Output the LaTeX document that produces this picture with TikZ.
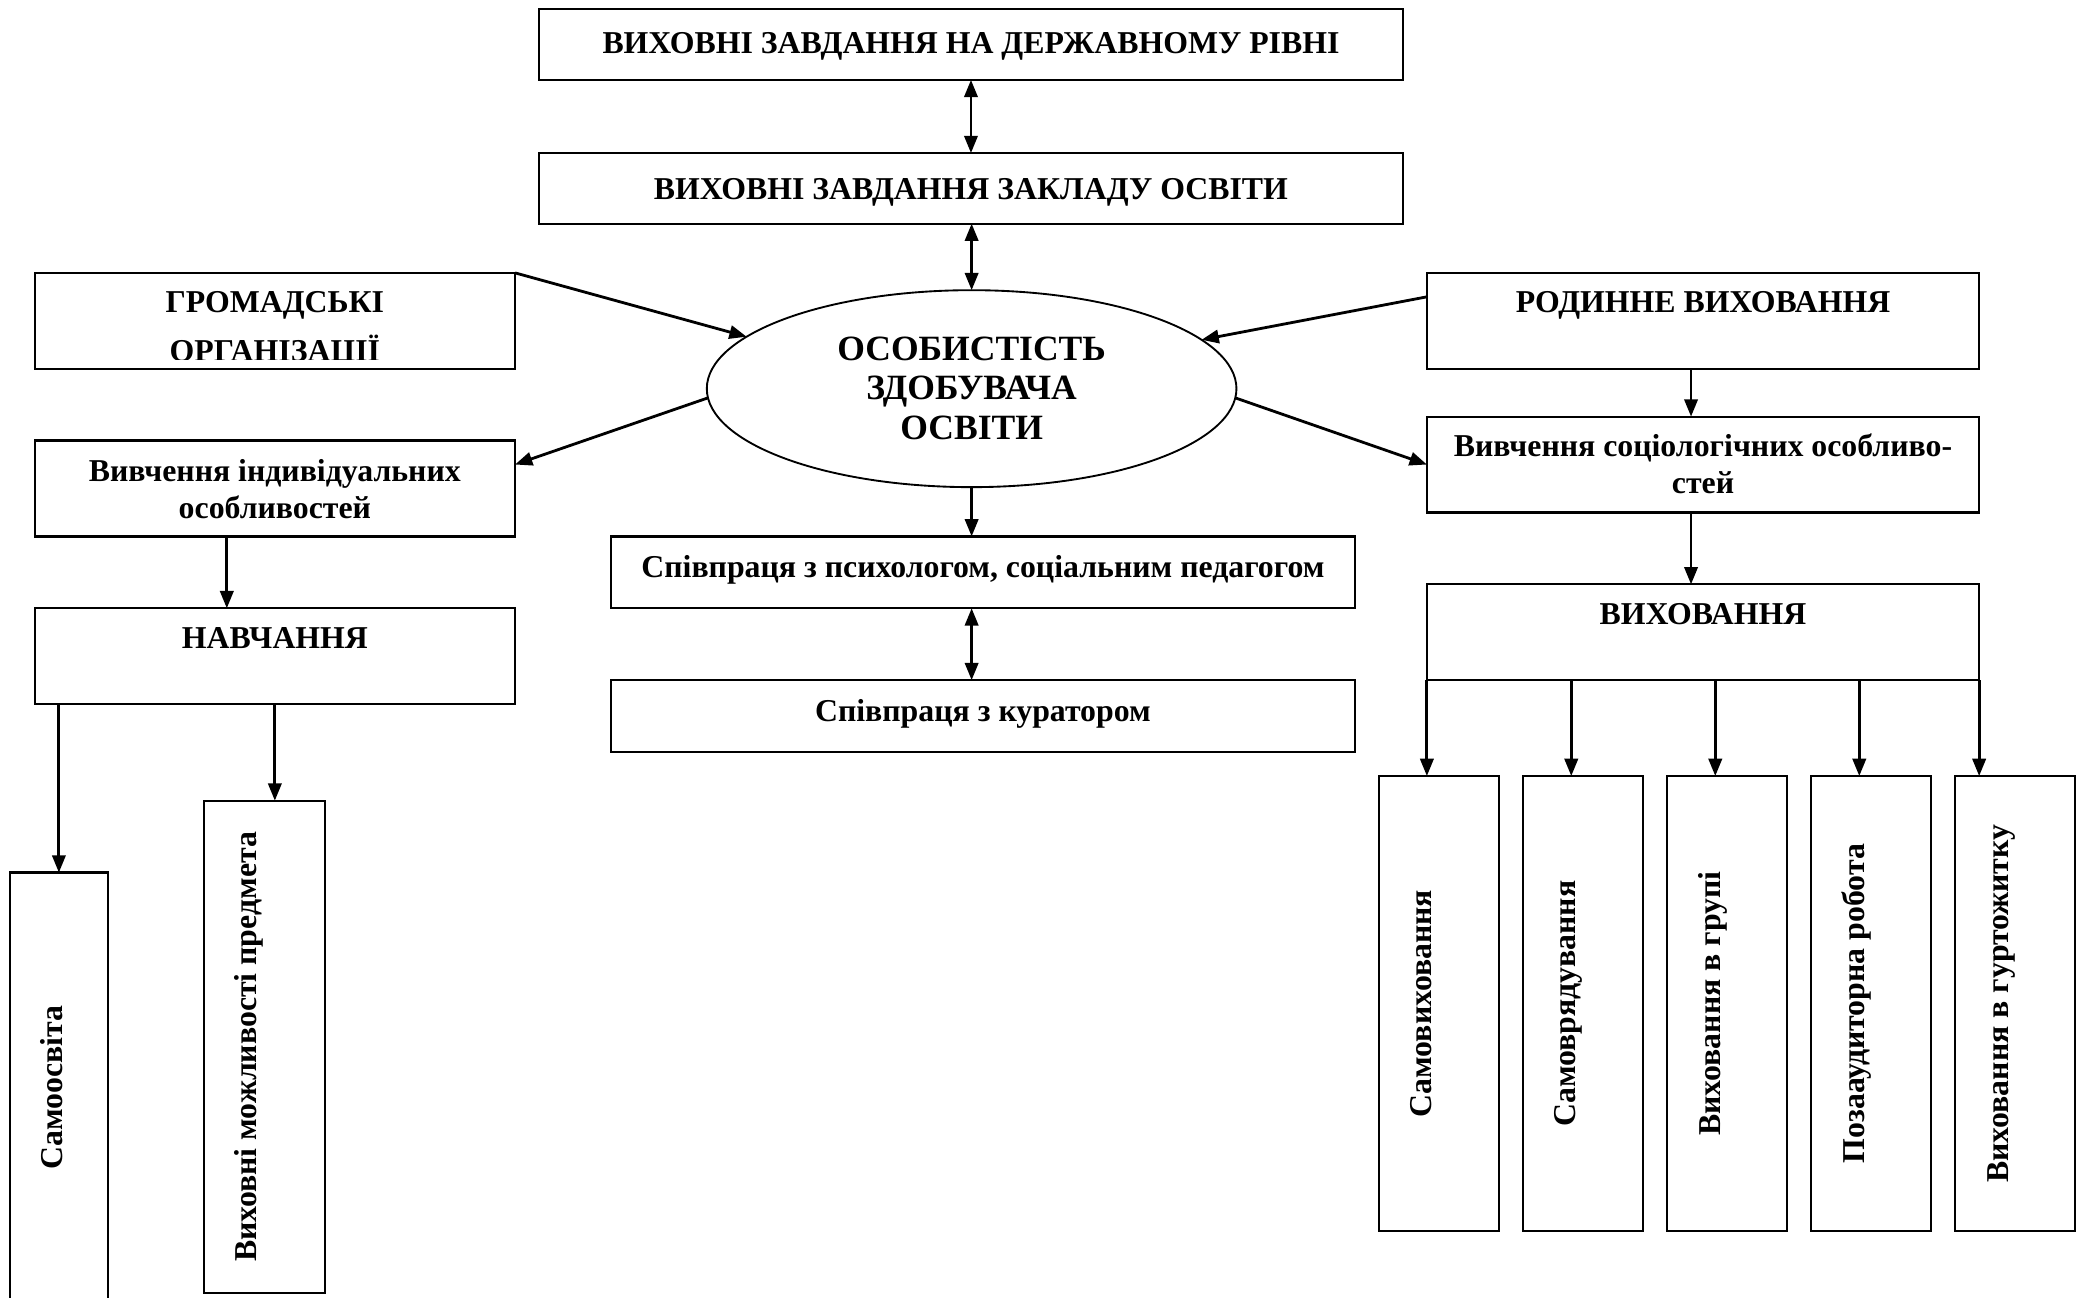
\documentclass[tikz,border=0pt]{standalone}
\usepackage{fontspec}
\setmainfont{Liberation Serif}
\usetikzlibrary{arrows.meta,shapes.geometric,calc}
\begin{document}
\begin{tikzpicture}[x=0.02cm,y=-0.02cm,
  bx/.style={draw, line width=0.95pt, inner sep=0pt, outer sep=0pt},
  lbl/.style={font=\bfseries\fontsize{13.6}{16}\selectfont, inner sep=0pt, anchor=base},
  biglbl/.style={font=\bfseries\fontsize{15.2}{17}\selectfont, inner sep=0pt, anchor=base},
  arrw/.style={line width=1.2pt, -{Triangle[length=0.26cm,width=0.2cm]}},
  darrw/.style={line width=1.2pt, {Triangle[length=0.26cm,width=0.2cm]}-{Triangle[length=0.26cm,width=0.2cm]}}]
\useasboundingbox (0,0) rectangle (1568,975);
\fill[white] (0,0) rectangle (1568,975);
\clip (0,0) rectangle (1568,975);

% boxes
\node[bx, minimum width=12.98cm, minimum height=1.06cm] (top) at (729.5,33.5) {};
\node[bx, minimum width=12.98cm, minimum height=1.06cm] (zakl) at (729.5,141.5) {};
\node[bx, minimum width=7.22cm, minimum height=1.44cm] (gromad) at (206.5,241) {};
\node[bx, minimum width=8.3cm, minimum height=1.44cm] (rodyn) at (1279.5,241) {};
\node[bx, minimum width=7.22cm, minimum height=1.44cm] (indiv) at (206.5,367) {};
\node[bx, minimum width=7.22cm, minimum height=1.44cm] (navch) at (206.5,493) {};
\node[bx, minimum width=8.3cm, minimum height=1.44cm] (soc) at (1279.5,349) {};
\node[bx, minimum width=8.3cm, minimum height=1.44cm] (vykh) at (1279.5,475) {};
\node[bx, minimum width=11.18cm, minimum height=1.08cm] (psych) at (738.5,430) {};
\node[bx, minimum width=11.18cm, minimum height=1.08cm] (kur) at (738.5,538) {};
\node[bx, minimum width=1.47cm, minimum height=6.45cm] (samoosv) at (44.25,816.8) {};
\node[bx, minimum width=1.82cm, minimum height=7.40cm] (mozh) at (198.5,786.5) {};
\node[bx, minimum width=1.8cm, minimum height=6.84cm] (b1) at (1081.2,754) {};
\node[bx, minimum width=1.8cm, minimum height=6.84cm] (b2) at (1189.4,754) {};
\node[bx, minimum width=1.8cm, minimum height=6.84cm] (b3) at (1297.6,754) {};
\node[bx, minimum width=1.8cm, minimum height=6.84cm] (b4) at (1405.8,754) {};
\node[bx, minimum width=1.8cm, minimum height=6.84cm] (b5) at (1514,754) {};
\node[draw, ellipse, line width=0.8pt, minimum width=7.96cm, minimum height=2.96cm, inner sep=0pt, outer sep=0pt] (el) at (730,292) {};

% texts
\node[lbl] (ttop) at (729.5,40) {ВИХОВНІ ЗАВДАННЯ НА ДЕРЖАВНОМУ РІВНІ};
\node[lbl] (tzakl) at (729.5,150) {ВИХОВНІ ЗАВДАННЯ ЗАКЛАДУ ОСВІТИ};
\node[lbl] (tgromad1) at (206.5,235) {ГРОМАДСЬКІ};
\begin{scope}
\clip (26,205) rectangle (387,270);
\node[lbl] (tgromad2) at (206.5,271.5) {ОРГАНІЗАЦІЇ};
\end{scope}
\node[lbl] (trodyn) at (1279.5,235) {РОДИННЕ ВИХОВАННЯ};
\node[lbl] (tindiv1) at (206.5,362) {Вивчення індивідуальних};
\node[lbl] (tindiv2) at (206.5,389.5) {особливостей};
\node[lbl] (tnavch) at (206.5,487) {НАВЧАННЯ};
\node[lbl] (tsoc1) at (1279.5,343) {Вивчення соціологічних особливо-};
\node[lbl] (tsoc2) at (1279.5,370.5) {стей};
\node[lbl] (tvykh) at (1279.5,469) {ВИХОВАННЯ};
\node[lbl] (tpsych) at (738.5,434) {Співпраця з психологом, соціальним педагогом};
\node[lbl] (tkur) at (738.5,542) {Співпраця з куратором};
\node[biglbl] (tel1) at (730,270.5) {ОСОБИСТІСТЬ};
\node[biglbl] (tel2) at (730,300.5) {ЗДОБУВАЧА};
\node[biglbl] (tel3) at (730,330.5) {ОСВІТИ};
\node[lbl, rotate=90] (tsamoosv) at (47.2,817) {Самоосвіта};
\node[lbl, rotate=90] (tmozh) at (192.7,786.5) {Виховні можливості предмета};
\node[lbl, rotate=90] (tb1) at (1075.8,754) {Самовиховання};
\node[lbl, rotate=90] (tb2) at (1184,754) {Самоврядування};
\node[lbl, rotate=90] (tb3) at (1292.3,754) {Виховання в групі};
\node[lbl, rotate=90] (tb4) at (1400.5,754) {Позааудиторна робота};
\node[lbl, rotate=90] (tb5) at (1508.7,754) {Виховання в гуртожитку};

% helper coordinates
\coordinate (rodynL) at ($(rodyn.north west)!0.25!(rodyn.south west)$);
\coordinate (indivR) at ($(indiv.north east)!0.25!(indiv.south east)$);
\coordinate (indivB) at ($(indiv.south west)!0.4!(indiv.south east)$);
\coordinate (rodynB) at ($(rodyn.south)+(-9,0)$);
\coordinate (socB) at ($(soc.south)+(-9,0)$);
\coordinate (a2) at ($(b2.north west)+(36.1,0)$);
\coordinate (a3) at ($(b3.north west)+(36.1,0)$);
\coordinate (a4) at ($(b4.north west)+(36.1,0)$);

% connectors
\draw[darrw] (top.south) -- (zakl.north);
\draw[darrw] (zakl.south -| el.north) -- (el.north);
\draw[arrw] (gromad.north east) -- (el.167);
\draw[arrw] (rodynL) -- (el.12);
\draw[arrw] (el.182) -- (indivR);
\draw[arrw] (el.-2) -- (soc.west);
\draw[arrw] (el.south) -- (el.south |- psych.north);
\draw[darrw] (el.south |- psych.south) -- (el.south |- kur.north);
\draw[arrw] (rodynB) -- (rodynB |- soc.north);
\draw[arrw] (socB) -- (socB |- vykh.north);
\draw[arrw] (indivB) -- (indivB |- navch.north);
\draw[arrw] (samoosv.north |- navch.south) -- (samoosv.north);
\draw[arrw] (navch.south) -- (navch.south |- mozh.north);
\draw[arrw] (vykh.south west) -- (vykh.south west |- b1.north);
\draw[arrw] (a2 |- vykh.south) -- (a2);
\draw[arrw] (a3 |- vykh.south) -- (a3);
\draw[arrw] (a4 |- vykh.south) -- (a4);
\draw[arrw] (vykh.south east) -- (vykh.south east |- b5.north);
\end{tikzpicture}
\end{document}
